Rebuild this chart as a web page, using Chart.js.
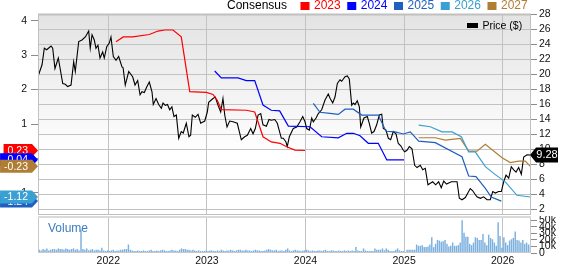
<!DOCTYPE html>
<html>
<head>
<meta charset="utf-8">
<script src="https://cdn.jsdelivr.net/npm/chart.js@4.4.1/dist/chart.umd.min.js"></script>
<style>
  html, body { margin: 0; padding: 0; background: #fff; overflow: hidden; }
  #wrap { position: relative; width: 565px; height: 264px; }
  canvas { position: absolute; left: 0; }
  #main { top: 0; }
  #vol { top: 216px; }
</style>
</head>
<body>
<div id="wrap">
  <canvas id="main" width="565" height="216"></canvas>
  <canvas id="vol" width="565" height="48"></canvas>
</div>
<script>
// dates are decimal years
const X_MIN = 2021.287
const X_MAX = 2026.287
const yearTicks = [2022, 2023, 2024, 2025, 2026]
const priceTicks = [2, 4, 6, 8, 10, 12, 14, 16, 18, 20, 22, 24, 26, 28]
const epsTicks = [-1, 0, 1, 2, 3, 4]
const volumeTicks = [0, 10000, 20000, 30000, 40000, 50000]

const priceDates = [2021.294, 2021.328, 2021.351, 2021.375, 2021.419, 2021.436, 2021.459, 2021.493, 2021.538, 2021.564,
  2021.588, 2021.622, 2021.649, 2021.665, 2021.700, 2021.733, 2021.767, 2021.801, 2021.817, 2021.835,
  2021.858, 2021.875, 2021.895, 2021.916, 2021.943, 2021.959, 2021.984, 2022.010, 2022.027, 2022.051,
  2022.078, 2022.105, 2022.139, 2022.150, 2022.172, 2022.207, 2022.247, 2022.271, 2022.298, 2022.322,
  2022.342, 2022.365, 2022.392, 2022.416, 2022.443, 2022.456, 2022.484, 2022.511, 2022.538, 2022.555,
  2022.578, 2022.600, 2022.623, 2022.645, 2022.666, 2022.690, 2022.714, 2022.740, 2022.760, 2022.791,
  2022.818, 2022.835, 2022.852, 2022.882, 2022.910, 2022.937, 2022.978, 2023.004, 2023.018, 2023.062,
  2023.085, 2023.113, 2023.140, 2023.163, 2023.181, 2023.204, 2023.231, 2023.265, 2023.308, 2023.349,
  2023.383, 2023.410, 2023.444, 2023.468, 2023.491, 2023.519, 2023.546, 2023.569, 2023.603, 2023.630,
  2023.653, 2023.688, 2023.714, 2023.755, 2023.775, 2023.802, 2023.815, 2023.836, 2023.876, 2023.911,
  2023.944, 2023.972, 2023.995, 2024.012, 2024.039, 2024.063, 2024.079, 2024.107, 2024.130, 2024.164,
  2024.198, 2024.231, 2024.250, 2024.276, 2024.299, 2024.323, 2024.350, 2024.367, 2024.401, 2024.424,
  2024.444, 2024.469, 2024.485, 2024.502, 2024.525, 2024.546, 2024.560, 2024.593, 2024.627, 2024.647,
  2024.671, 2024.695, 2024.722, 2024.748, 2024.773, 2024.789, 2024.816, 2024.840, 2024.864, 2024.890,
  2024.918, 2024.941, 2024.966, 2024.992, 2025.006, 2025.029, 2025.053, 2025.080, 2025.107, 2025.131,
  2025.164, 2025.189, 2025.215, 2025.242, 2025.266, 2025.290, 2025.320, 2025.350, 2025.377, 2025.402,
  2025.430, 2025.479, 2025.510, 2025.537, 2025.560, 2025.587, 2025.621, 2025.671, 2025.696, 2025.716,
  2025.739, 2025.773, 2025.807, 2025.841, 2025.874, 2025.899, 2025.925, 2025.959, 2025.986, 2026.010,
  2026.034, 2026.061, 2026.087, 2026.112, 2026.135, 2026.162, 2026.189, 2026.213, 2026.246, 2026.280]
const priceValues = [20.0, 21.3, 23.5, 23.3, 23.8, 23.5, 20.8, 22.2, 18.8, 18.7,
  18.4, 18.6, 21.7, 20.4, 24.4, 24.6, 25.0, 25.8, 23.5, 25.3,
  24.6, 23.5, 23.9, 22.2, 23.0, 22.2, 23.7, 24.2, 25.0, 22.4,
  21.9, 22.4, 21.0, 20.9, 18.6, 20.4, 19.7, 18.6, 19.2, 17.3,
  17.7, 17.6, 18.4, 19.0, 17.7, 16.0, 16.8, 16.0, 15.5, 16.2,
  15.9, 16.0, 15.3, 15.7, 14.4, 14.6, 11.5, 12.4, 12.2, 13.5,
  11.7, 11.9, 14.6, 14.3, 14.7, 13.5, 13.8, 15.0, 16.3, 16.8,
  17.0, 15.9, 15.0, 16.8, 14.6, 13.0, 13.8, 13.7, 13.5, 11.3,
  11.7, 11.9, 12.8, 12.1, 12.8, 14.6, 14.8, 13.3, 13.1, 14.0,
  13.9, 14.0, 13.5, 11.5, 11.5, 11.0, 10.4, 11.7, 12.8, 13.0,
  13.7, 14.4, 13.7, 12.8, 12.6, 14.2, 13.7, 14.2, 14.8, 15.3,
  16.6, 17.4, 16.8, 16.2, 17.0, 18.8, 19.3, 19.1, 19.7, 19.8,
  19.4, 15.9, 16.2, 16.0, 16.5, 15.7, 13.0, 14.2, 14.4, 13.5,
  12.2, 12.4, 13.3, 14.6, 14.7, 12.8, 12.6, 11.5, 11.3, 12.4,
  12.1, 10.8, 10.5, 9.9, 9.7, 9.9, 10.4, 10.1, 7.9, 7.6,
  7.9, 7.3, 7.5, 5.3, 5.5, 5.7, 5.3, 5.7, 4.9, 5.8,
  5.4, 5.7, 5.7, 5.7, 3.5, 3.3, 3.6, 4.8, 4.5, 4.1,
  3.7, 3.5, 3.7, 3.3, 3.3, 4.4, 4.2, 4.4, 4.4, 5.7,
  6.6, 6.2, 7.7, 7.3, 7.0, 7.6, 6.7, 9.0, 9.3, 9.28]

// Zacks consensus EPS estimates by fiscal year
const c2023Dates = [2022.078, 2022.152, 2022.247, 2022.416, 2022.504, 2022.572, 2022.656, 2022.740, 2022.826, 2022.994,
  2023.062, 2023.105, 2023.146, 2023.400, 2023.485, 2023.569, 2023.653, 2023.741, 2023.809, 2023.893, 2023.995]
const c2023Values = [3.39, 3.53, 3.53, 3.60, 3.70, 3.73, 3.73, 3.53, 1.94, 1.92,
  1.86, 1.69, 1.42, 1.40, 1.35, 0.63, 0.48, 0.44, 0.34, 0.24, 0.23]
const c2024Dates = [2023.079, 2023.146, 2023.315, 2023.400, 2023.485, 2023.569, 2023.653, 2023.738, 2023.826, 2024.046,
  2024.164, 2024.333, 2024.418, 2024.485, 2024.553, 2024.637, 2024.738, 2024.824, 2024.999]
const c2024Values = [2.54, 2.34, 2.34, 2.26, 2.26, 1.55, 1.40, 1.38, 0.94, 0.92,
  0.63, 0.60, 0.73, 0.73, 0.66, 0.44, 0.44, -0.04, -0.04]
const c2025Dates = [2024.079, 2024.147, 2024.248, 2024.333, 2024.401, 2024.485, 2024.570, 2024.738, 2024.816, 2024.908,
  2024.992, 2025.063, 2025.148, 2025.316, 2025.587, 2025.655, 2025.729, 2025.824, 2025.884, 2025.986]
const c2025Values = [1.60, 1.34, 1.31, 1.28, 1.43, 1.43, 1.26, 1.26, 0.79, 0.77,
  0.71, 0.77, 0.50, 0.46, 0.05, -0.51, -0.53, -0.87, -1.12, -1.24]
const c2026Dates = [2025.148, 2025.266, 2025.384, 2025.486, 2025.580, 2025.655, 2025.722, 2025.824, 2025.925, 2026.026,
  2026.145, 2026.280]
const c2026Values = [0.97, 0.92, 0.77, 0.77, 0.63, 0.19, 0.19, -0.24, -0.47, -0.68, -1.07, -1.12]
const c2027Dates = [2025.148, 2025.316, 2025.418, 2025.570, 2025.655, 2025.739, 2025.824, 2025.993, 2026.077, 2026.162,
  2026.229, 2026.280]
const c2027Values = [0.60, 0.60, 0.53, 0.58, 0.21, 0.21, 0.41, 0.02, -0.12, -0.08, -0.08, -0.23]

// weekly volume in thousands, first week starting volStart
const volStart = 2021.30
const volumeK = [
  5, 4, 6, 5, 7, 4, 5, 6, 6, 5, 7, 6, 6, 5, 7, 6, 5, 6, 7, 5, 6, 4,
  36,
  6, 5, 7, 4, 5, 6, 4, 5, 5, 4, 8,
  4, 3, 4, 3, 4, 5, 3, 4, 4, 5, 5, 6, 6,
  13,
  5, 4, 3, 3, 4, 3, 3, 4, 3, 3, 4, 5, 3, 3, 4, 3, 4, 5, 4, 3, 3, 4, 5, 4, 4, 3, 5,
  7, 6, 6, 5, 5, 4, 5, 4, 3, 4, 3, 3,
  3, 4, 3, 4, 4, 3, 3, 4, 3, 5, 4, 3, 4, 4, 5, 4, 3, 4, 5, 5, 4, 4, 5, 4, 4, 3, 4, 5, 4, 4, 3, 3, 4, 5, 6, 5, 4, 4, 5, 3, 4, 4, 3, 5,
  7,
  4, 3, 4, 5, 4, 4, 3, 4, 4, 5, 4, 3, 4, 3, 3, 4, 4, 3, 4, 5, 3, 3, 4, 4, 3, 3, 4, 3, 3, 4, 3, 4, 3, 4, 3,
  9,
  4, 3,
  3, 7, 4, 3, 3, 3, 3, 7, 5, 5, 5, 7, 4, 7, 5, 3, 3, 3, 5, 7, 4, 3, 3,
  1, 5, 5, 5, 5, 5, 13, 11, 11, 12, 9, 9, 10, 13, 24, 9, 14, 20, 19, 17, 18, 20, 14, 10, 11, 16, 11, 11, 12, 16,
  50, 31, 25, 25, 14, 12, 16, 24, 23, 20, 20, 29, 16, 12, 28, 23, 21, 16, 11, 47,
  26, 8, 24, 16, 12, 19, 21, 23, 33, 20, 19, 16, 20, 14, 16, 13, 12]

const legendYears = ['2023', '2024', '2025', '2026', '2027']
const legendColors = ['#ff0000', '#0000ff', '#1f5fbf', '#3a9fd2', '#b07d35']

const FONT = 'Liberation Sans, Arial, Helvetica, sans-serif'
const GRID = '#c2c2c2'
const TICKC = '#8c8c8c'

function pts(dates, values) {
  return dates.map((d, i) => ({ x: d, y: values[i] }))
}
function noPad(s) {
  s.paddingTop = 0; s.paddingBottom = 0; s.paddingLeft = 0; s.paddingRight = 0
}
function setTicks(list) {
  return s => { s.ticks = list.map(v => ({ value: v })) }
}

const consensus = [
  { label: '2023', dates: c2023Dates, values: c2023Values, color: legendColors[0] },
  { label: '2024', dates: c2024Dates, values: c2024Values, color: legendColors[1] },
  { label: '2025', dates: c2025Dates, values: c2025Values, color: legendColors[2] },
  { label: '2026', dates: c2026Dates, values: c2026Values, color: legendColors[3] },
  { label: '2027', dates: c2027Dates, values: c2027Values, color: legendColors[4] },
]

const panelPlugin = {
  id: 'panel',
  beforeDraw(chart) {
    const { ctx, chartArea: a } = chart
    const g = ctx.createLinearGradient(0, a.top, 0, a.bottom)
    g.addColorStop(0, '#e3e3e3')
    g.addColorStop(0.7, '#ffffff')
    g.addColorStop(1, '#ffffff')
    ctx.save()
    ctx.fillStyle = g
    ctx.fillRect(a.left, a.top, a.right - a.left, a.bottom - a.top)
    ctx.restore()
  },
  afterDraw(chart) {
    const { ctx, chartArea: a } = chart
    ctx.save()
    // frame
    ctx.strokeStyle = '#c0c0c0'
    ctx.lineWidth = 1
    ctx.strokeRect(a.left + 0.5, a.top + 0.5, a.right - a.left - 1, a.bottom - a.top - 1)
    ctx.beginPath(); ctx.moveTo(a.left, a.top + 0.5); ctx.lineTo(a.right, a.top + 0.5)
    ctx.lineWidth = 2; ctx.stroke()

    // top legend
    ctx.textBaseline = 'middle'
    ctx.font = '12px ' + FONT
    ctx.fillStyle = '#000'
    ctx.fillText('Consensus', 227, 6)
    legendYears.forEach((y, i) => {
      const x = 300.5 + i * 46.75
      ctx.fillStyle = legendColors[i]
      ctx.fillRect(x, 2, 9, 8)
      ctx.fillText(y, x + 13.5, 6)
    })

    // price legend
    ctx.fillStyle = '#000'
    ctx.fillRect(467, 23, 11, 5)
    ctx.font = '10.5px ' + FONT
    ctx.fillText('Price ($)', 482.5, 26)

    // last-value tags on the left axis
    const eps = chart.scales.eps
    ctx.font = '10.5px ' + FONT
    const order = [0, 1, 2, 4, 3]
    order.forEach(i => {
      const c = consensus[i]
      const v = c.values[c.values.length - 1]
      const y = eps.getPixelForValue(v)
      const txt = v.toFixed(2)
      const w = ctx.measureText(txt).width
      const left = Math.max(0, 28 - w - 4)
      ctx.fillStyle = c.color
      ctx.beginPath()
      ctx.moveTo(left, y - 6.5)
      ctx.lineTo(32, y - 6.5)
      ctx.lineTo(38, y)
      ctx.lineTo(32, y + 6.5)
      ctx.lineTo(left, y + 6.5)
      ctx.closePath()
      ctx.fill()
      ctx.fillStyle = '#fff'
      ctx.textAlign = 'right'
      ctx.fillText(txt, 28, y + 0.5)
      ctx.textAlign = 'left'
    })

    // last price tag on the right axis
    const p = chart.scales.price
    const last = priceValues[priceValues.length - 1]
    const py = p.getPixelForValue(last)
    ctx.fillStyle = '#000'
    ctx.beginPath()
    ctx.moveTo(530, py)
    ctx.lineTo(536, py - 7.5)
    ctx.lineTo(558, py - 7.5)
    ctx.lineTo(558, py + 7.5)
    ctx.lineTo(536, py + 7.5)
    ctx.closePath()
    ctx.fill()
    ctx.fillStyle = '#fff'
    ctx.font = '11px ' + FONT
    ctx.textAlign = 'center'
    ctx.fillText(last.toFixed(2), 547, py + 0.5)
    ctx.restore()
  }
}

const tickFont = { family: FONT, size: 10.5 }

new Chart(document.getElementById('main'), {
  type: 'line',
  data: {
    datasets: consensus.map(c => ({
      label: c.label,
      data: pts(c.dates, c.values),
      borderColor: c.color,
      borderWidth: 1.2,
      yAxisID: 'eps'
    })).concat([{
      label: 'Price ($)',
      data: pts(priceDates, priceValues),
      borderColor: '#000',
      borderWidth: 1.1,
      yAxisID: 'price'
    }])
  },
  options: {
    responsive: false,
    animation: false,
    layout: { padding: { top: 14, bottom: 1, left: 0, right: 0 } },
    elements: { point: { radius: 0 }, line: { tension: 0 } },
    plugins: { legend: { display: false }, tooltip: { enabled: false } },
    scales: {
      x: {
        type: 'linear', min: X_MIN, max: X_MAX, offset: false,
        afterBuildTicks: setTicks(yearTicks),
        ticks: { display: false },
        grid: { color: GRID, drawTicks: false, offset: false },
        border: { display: false },
        afterFit: s => { noPad(s); s.height = 0 }
      },
      price: {
        position: 'right', min: 1.27, max: 28.07,
        afterBuildTicks: setTicks(priceTicks),
        ticks: { autoSkip: false, padding: 2, color: '#111', font: tickFont },
        grid: { color: GRID, tickColor: TICKC, tickLength: 6 },
        border: { display: false },
        afterFit: s => { noPad(s); s.width = 34 }
      },
      eps: {
        position: 'left', min: -1.643, max: 4.195,
        afterBuildTicks: setTicks(epsTicks),
        ticks: { autoSkip: false, padding: 4, color: '#111', font: tickFont },
        grid: { drawOnChartArea: false, tickColor: TICKC, tickLength: 7 },
        border: { display: false },
        afterFit: s => { noPad(s); s.width = 38 }
      }
    }
  },
  plugins: [panelPlugin]
})

const volPlugin = {
  id: 'volpanel',
  afterDraw(chart) {
    const { ctx, chartArea: a } = chart
    ctx.save()
    ctx.strokeStyle = '#c8c8c8'
    ctx.lineWidth = 1
    ctx.beginPath()
    ctx.moveTo(a.left + 0.5, a.top); ctx.lineTo(a.left + 0.5, a.bottom)
    ctx.moveTo(a.right - 0.5, a.top); ctx.lineTo(a.right - 0.5, a.bottom)
    ctx.moveTo(a.left, a.bottom - 0.5); ctx.lineTo(a.right, a.bottom - 0.5)
    ctx.stroke()
    ctx.strokeStyle = '#dadada'
    ctx.lineWidth = 2
    ctx.beginPath(); ctx.moveTo(a.left, 1); ctx.lineTo(a.right, 1); ctx.stroke()
    ctx.fillStyle = '#3a7dc2'
    ctx.font = '12px ' + FONT
    ctx.textBaseline = 'middle'
    ctx.fillText('Volume', 48, 12.5)
    ctx.restore()
  }
}

new Chart(document.getElementById('vol'), {
  type: 'bar',
  data: {
    datasets: [{
      label: 'Volume',
      data: volumeK.map((v, i) => ({ x: volStart + i / 52, y: v * 1000 })),
      backgroundColor: '#7bb0df',
      barPercentage: 0.85,
      categoryPercentage: 0.9,
      yAxisID: 'vol'
    }]
  },
  options: {
    responsive: false,
    animation: false,
    layout: { padding: { top: 1, bottom: 0, left: 38, right: 0 } },
    plugins: { legend: { display: false }, tooltip: { enabled: false } },
    scales: {
      x: {
        type: 'linear', min: X_MIN, max: X_MAX, offset: false,
        afterBuildTicks: setTicks(yearTicks),
        ticks: { padding: 1.5, color: '#111', font: tickFont, maxRotation: 0, callback: v => String(v) },
        grid: { color: GRID, drawTicks: false, offset: false },
        border: { display: false },
        afterFit: s => { noPad(s); s.height = 11 }
      },
      vol: {
        position: 'right', min: 0, max: 55000,
        afterBuildTicks: setTicks(volumeTicks),
        ticks: { autoSkip: false, padding: 2, color: '#111', font: tickFont,
          callback: v => v === 0 ? '0' : (v / 1000) + 'k' },
        grid: { drawOnChartArea: false, tickColor: TICKC, tickLength: 6 },
        border: { display: false },
        afterFit: s => { noPad(s); s.width = 34 }
      }
    }
  },
  plugins: [volPlugin]
})
</script>
</body>
</html>
